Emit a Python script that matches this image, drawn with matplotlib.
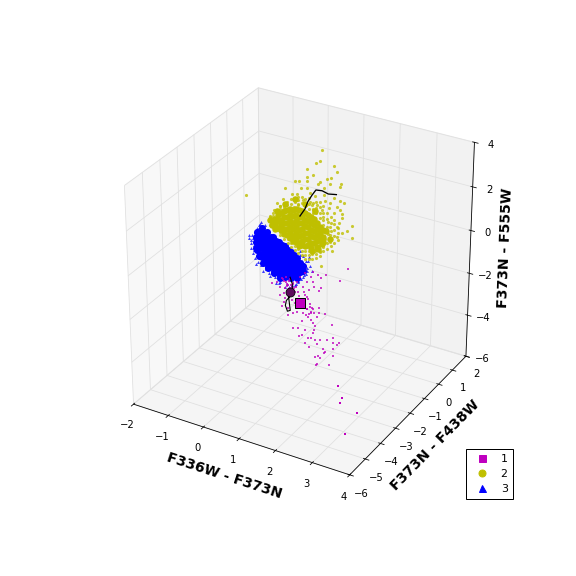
import numpy as np
import matplotlib
matplotlib.use('Agg')
import matplotlib.pyplot as plt
from matplotlib.lines import Line2D
from mpl_toolkits.mplot3d import Axes3D

# Depth along F373N - F438W cannot be read from the picture: estimated per group.
m_x = [1.84,1.61,1.22,1.0,.87,.806,.64,.5,1.1,.685,.87,1.1,1.03,.89,.75,.59,.41,.22,.04,-.15,-.29,-.06,.13,.27,
       -.07,.08,.04,-.01,.15,.16,.31,.41,.36,.27,.59,.685,.78,.73,.64,.87,1.04,1.04,1.2,.98,.82,.73,.82,.55,.87,.94,
       1.4,.31,.43,.64,.89,.87,.57,.48,.73,.82,.94,1.08,1.26,1.45,1.45,1.62,1.55,.65,.99,.75,1.43,1.17,1.2,1.18,
       .94,1.01,1.07,1.45,1.34,1.0,.96,
       .3,.12,.18,.35,.05,-.02,.2,.48,.55,.62,.1,
       .02,.1,.18,.25,.32,.08,.15,.22,.3,.38,.45,.6,.7,.7,.8,.75,.85,.9,.68,.78]
m_z = [-.98,-1.65,-1.53,-1.65,-1.59,-1.85,-1.73,-2.0,-1.75,-2.14,-2.06,-2.22,-2.37,-2.28,-2.46,-2.42,-2.28,-2.22,-2.39,-2.55,-2.65,-2.74,-2.49,-2.58,
       -3.13,-3.19,-3.39,-3.62,-3.65,-3.98,-3.8,-3.67,-3.31,-3.21,-3.67,-3.4,-3.11,-2.9,-2.76,-3.3,-3.17,-3.45,-3.41,-3.67,-3.47,-3.75,-3.86,-4.04,-4.0,-4.11,
       -3.81,-4.5,-4.44,-4.46,-4.3,-4.46,-4.71,-4.81,-4.8,-4.76,-4.76,-4.68,-4.6,-4.42,-4.65,-4.59,-4.7,-5.07,-4.94,-5.2,-4.96,-5.09,-5.2,-5.3,
       -5.6,-5.54,-5.6,-5.31,-5.78,-5.93,-5.98,
       -2.35,-2.6,-2.85,-2.75,-2.95,-2.3,-3.05,-2.9,-3.0,-3.2,-2.2,
       -2.3,-2.4,-2.35,-2.5,-2.6,-2.7,-2.55,-2.65,-2.4,-2.5,-2.7,-2.65,-2.85,-3.4,-3.55,-3.6,-3.3,-3.5,-3.7,-3.25]
m_y = [-1.0] * len(m_x)
mfar_x = [3.26,3.37,3.30,3.77,3.46]
mfar_y = [-5.0,-5.0,-5.0,-5.0,-5.0]
mfar_z = [-3.0,-3.52,-3.79,-3.98,-5.15]

b_core_x = [-.67,-.67,-.67,-.67,-.5,-.5,-.5,-.5,-.5,-.5,-.33,-.33,-.33,-.33,-.33,-.33,-.33,
            -.17,-.17,-.17,-.17,-.17,-.17,-.17,0,0,0,0,0,0,0,.17,.17,.17,.17,.17,.17,.33,.33,.33,.33,.33,.5,.5,.5,
            -.75,-.75,-.75,-.58,-.58,-.58,-.58,-.58,-.58,-.42,-.42,-.42,-.42,-.42,-.42,-.42,-.42,
            -.25,-.25,-.25,-.25,-.25,-.25,-.25,-.25,-.08,-.08,-.08,-.08,-.08,-.08,-.08,-.08,
            .08,.08,.08,.08,.08,.08,.08,.25,.25,.25,.25,.25,.25,.42,.42,.42,.42,.42,.58,.58,
            -.72,-.67,-.56,-.42,-.25,-.08,-.72,-.56]
b_core_z = [-.56,-.79,-1.02,-1.16,-.38,-.62,-.85,-1.08,-1.31,-1.55,-.49,-.72,-.95,-1.19,-1.42,-1.65,-1.84,
            -.6,-.83,-1.06,-1.29,-1.53,-1.76,-1.99,-.74,-.98,-1.21,-1.44,-1.67,-1.91,-2.09,-.89,-1.13,-1.36,-1.59,-1.82,-2.06,-1.05,-1.28,-1.51,-1.74,-1.98,-1.34,-1.57,-1.76,
            -.7,-.95,-1.2,-.4,-.65,-.9,-1.15,-1.4,-1.55,-.3,-.55,-.8,-1.05,-1.3,-1.55,-1.78,-1.95,
            -.45,-.7,-.95,-1.2,-1.45,-1.7,-1.95,-2.1,-.6,-.85,-1.1,-1.35,-1.6,-1.85,-2.1,-2.22,
            -.75,-1.0,-1.25,-1.5,-1.75,-2.0,-2.2,-.95,-1.2,-1.45,-1.7,-1.95,-2.15,-1.15,-1.4,-1.65,-1.9,-2.05,-1.45,-1.65,
            -1.28,-1.53,-1.81,-2.02,-2.17,-2.32,-.45,-.18]
b_x = [-.61,-.67,-.78,-.83,-.89,-.89,-.81,-.83,-.78,-.69,-.61,-.47,-.39,-.22,-.06,.14,.28,.44,.58,.69,.78,.58,.67,.5,.83,.64,.56,.39,.47,-.56,-.72,-.94,-.75,-.56,-.19,.06,.75,
       .5,.55,.62,.7,.72,.6,.52,.66,.45,.4,.35,-.95,-.9,-.85,-.8,-.7,-.62,-.5,-.35,-.1,.18]
b_z = [.07,-.09,-.47,-.78,-.9,-1.27,-1.09,-1.47,-1.68,-1.83,-1.97,-2.09,-2.24,-2.34,-2.49,-2.49,-2.47,-2.25,-1.95,-1.62,-1.34,-.97,-1.16,-.78,-1.55,-1.46,-1.68,-2.13,-1.96,-.09,-.26,-.69,-1.95,-2.23,-2.6,-2.67,-.93,
       -.95,-1.2,-1.3,-1.45,-1.15,-1.85,-2.05,-1.75,-2.2,-2.35,-2.42,-.85,-1.05,-.65,-1.35,-.3,-.05,-.02,-2.33,-2.55,-2.6]

y_core_x = [-.28,-.28,-.11,-.11,-.11,.06,.06,.06,.06,.06,.22,.22,.22,.22,.22,.22,.39,.39,.39,.39,.39,.39,.39,
            .56,.56,.56,.56,.56,.56,.56,.72,.72,.72,.72,.72,.72,.89,.89,.89,.89,.89,1.06,1.06,1.06,
            -.2,-.2,-.2,-.02,-.02,-.02,-.02,.14,.14,.14,.14,.14,.3,.3,.3,.3,.3,.3,.47,.47,.47,.47,.47,.47,.47,
            .64,.64,.64,.64,.64,.64,.8,.8,.8,.8,.8,.8,.97,.97,.97,.97,.97,1.15,1.15,1.15,
            1.22,1.33,1.11,.36,.64,.92,.08,-.14,-.33,.83,1.0]
y_core_z = [.33,.1,.6,.32,.04,.87,.59,.31,.03,-.2,1.04,.76,.48,.2,-.08,-.31,1.12,.84,.56,.28,0,-.27,-.41,
            1.11,.83,.55,.27,0,-.28,-.47,1.0,.73,.45,.17,-.11,-.39,.9,.62,.34,.06,-.22,.61,.33,.05,
            .4,.15,-.05,.75,.45,.2,-.05,.95,.65,.35,.1,-.2,1.05,.75,.45,.15,-.15,-.4,1.1,.8,.5,.2,-.1,-.4,-.55,
            1.05,.75,.45,.15,-.15,-.45,.95,.65,.35,.05,-.25,-.5,.75,.45,.2,-.1,-.35,.5,.2,-.05,
            .5,.19,-.15,1.57,1.47,1.29,1.2,.77,.3,-.62,-.44]
y_x = [1.1,1.06,.94,1.43,.70,.87,1.5,.36,.47,.70,.69,1.24,1.06,1.35,1.63,.08,.52,.69,1.01,1.33,1.15,1.61,-1.03,-.15,-.06,-.24,-.35,-.31,.04,.27,.41,.78,.92,1.15,1.43,1.33,1.61,1.7,1.52,1.61,1.29,1.1,1.43,1.66,1.57,1.94,1.94,1.52,1.33,1.33,1.38,1.1,1.15,1.06,.92,.78,.55,1.29,1.15,.96,.82,.64,.45,.32,.18,0,-.15,-.29,.45,.59,.78,1.06,1.2,.87,1.43,1.29,1.2,.92,.73,1.52,1.33,1.15,
       -.35,-.35,-.35,-.25,-.25,-.25,-.15,-.15,-.15,-.05,-.05,-.05,-.05,.05,.05,.05,.05,.15,.15,.15,.15,.25,.25,.25,.25,.35,.35,.35,.35,.45,.45,.45,.45,.55,.55,.55,.55,
       .65,.65,.65,.65,.65,.75,.75,.75,.75,.75,.75,.85,.85,.85,.85,.85,.85,.95,.95,.95,.95,.95,.95,1.05,1.05,1.05,1.05,1.05,1.05,
       1.15,1.15,1.15,1.15,1.15,1.15,1.25,1.25,1.25,1.25,1.25,1.25,1.35,1.35,1.35,1.35,1.35,1.45,1.45,1.45,1.45,1.55,1.55,1.55,1.65,1.65,1.8]
y_z = [4.07,3.57,3.45,3.52,3.07,2.87,3.29,2.38,2.43,2.70,2.51,2.85,2.66,2.93,2.81,1.93,2.12,2.2,2.51,2.67,2.42,2.65,1.11,1.17,1.06,.78,.42,.23,1.41,1.76,1.83,2.01,1.93,2.11,2.09,1.81,2.03,1.99,1.7,1.64,1.56,1.39,1.4,1.27,1.0,1.03,.52,.36,.34,.03,-.33,-1.17,-.29,-.57,-.56,-.4,-.38,.94,1.11,1.55,1.48,1.4,1.38,1.17,.94,.7,.47,.09,1.69,1.6,1.63,1.76,1.83,1.27,.93,.4,.12,-.17,-.19,.82,.73,.56,
       .45,.25,.05,.65,.5,-.02,.85,.7,-.1,1.05,.9,-.12,-.3,1.2,1.05,-.25,-.42,1.35,1.2,-.35,-.55,1.5,1.3,-.5,-.68,1.62,1.4,-.62,-.8,1.55,1.35,-.7,-.9,1.75,1.45,-.75,-.95,
       1.7,1.38,-.7,-.88,-1.05,1.8,1.5,1.3,-.65,-.85,-1.0,1.6,1.35,1.15,-.55,-.75,-.95,1.7,1.4,1.2,-.45,-.7,-.9,1.5,1.25,1.0,-.25,-.5,-.75,
       1.6,1.3,.95,.75,-.1,-.45,1.35,1.05,.7,.45,-.05,-.3,1.2,.9,.55,.2,-.15,1.1,.65,.35,.05,.8,.55,.25,.6,1.45,.75]

track_x = [.5,.64,.72,.83,.94,1.11,1.28,1.5]
track_z = [.85,1.24,1.61,1.94,2.23,2.27,2.2,2.27]
track2_x = [.22,.28,.28,.11,.08,.14,.22,.19,.17]
track2_z = [-2.13,-2.42,-2.89,-3.29,-3.54,-3.79,-3.71,-3.30,-3.03]
star_x, star_z = [.5], [-3.2]
dot_x, dot_z = [.22], [-2.82]
depth_y = -1.0
legend_labels = ['1', '2', '3']

def at_depth(v):
    return np.full(len(v), depth_y)

fig = plt.figure(figsize=(8, 8), dpi=72)
ax = fig.add_axes([0.127, 0.113, 0.775, 0.8], projection='3d', computed_zorder=False)
ax.view_init(30, -60)
ax.set_box_aspect((1, 1, 1), zoom=0.94)
ax.set_xlim(-2, 4, view_margin=0)
ax.set_ylim(-6, 2, view_margin=0)
ax.set_zlim(-6, 4, view_margin=0)
ax.set_xticks([-2,-1,0,1,2,3,4])
ax.set_yticks([-6,-5,-4,-3,-2,-1,0,1,2])
ax.set_zticks([-6,-4,-2,0,2,4])
for a in (ax.xaxis, ax.yaxis, ax.zaxis):
    a._axinfo['grid']['color'] = (0.88,0.88,0.88,1)
    a._axinfo['grid']['linewidth'] = 0.8
    a._axinfo['axisline']['color'] = (0,0,0,1)
    a.set_tick_params(labelsize=10)
ax.set_xlabel('F336W - F373N', fontsize=14, fontweight='bold', labelpad=5)
ax.set_ylabel('F373N - F438W', fontsize=14, fontweight='bold', labelpad=6)
ax.set_zlabel('F373N - F555W', fontsize=14, fontweight='bold', labelpad=4)

BLUE, YEL, MAG = (0,0,1), (.75,.75,0), (.75,0,.75)
kw = dict(depthshade=False, linewidths=0)
ax.scatter(b_core_x, at_depth(b_core_x), b_core_z, c=[BLUE], marker='o', s=50, zorder=2, **kw)
ax.scatter(b_x, at_depth(b_x), b_z, c=[BLUE], marker='^', s=9, alpha=.75, zorder=2, **kw)
ax.scatter(y_core_x, at_depth(y_core_x), y_core_z, c=[YEL], marker='o', s=42, zorder=3, **kw)
ax.scatter(y_x, at_depth(y_x), y_z, c=[YEL], marker='o', s=10, alpha=.8, zorder=3, **kw)
ax.scatter(m_x, m_y, m_z, c=[MAG], marker='s', s=7, alpha=.75, zorder=4, **kw)
ax.scatter(mfar_x, mfar_y, mfar_z, c=[MAG], marker='s', s=8, zorder=4, **kw)
ax.plot(track_x, at_depth(track_x), track_z, color='k', lw=1.3, zorder=5)
ax.plot(track2_x, at_depth(track2_x), track2_z, color='k', lw=1.1, zorder=5)
ax.scatter(dot_x, at_depth(dot_x), dot_z, c=['#5c0c5c'], marker='o', s=80, edgecolors='k', linewidths=.8, depthshade=False, zorder=6)
ax.scatter(star_x, at_depth(star_x), star_z, c=[MAG], marker='s', s=110, edgecolors='k', linewidths=1, depthshade=False, zorder=7)

handles = [Line2D([], [], ls='', marker='s', color=MAG, ms=7, mec=MAG),
           Line2D([], [], ls='', marker='o', color=YEL, ms=7, mec=YEL),
           Line2D([], [], ls='', marker='^', color=BLUE, ms=7, mec=BLUE)]
leg = fig.legend(handles, legend_labels, loc='lower left', bbox_to_anchor=(466/576, 1-499/576),
                 borderaxespad=0, fontsize=11, fancybox=False, edgecolor='k', framealpha=1,
                 handletextpad=.7, labelspacing=.45, borderpad=.45, handlelength=2.0, numpoints=1)
leg.get_frame().set_linewidth(1)
fig.savefig('out.png', dpi=72)
